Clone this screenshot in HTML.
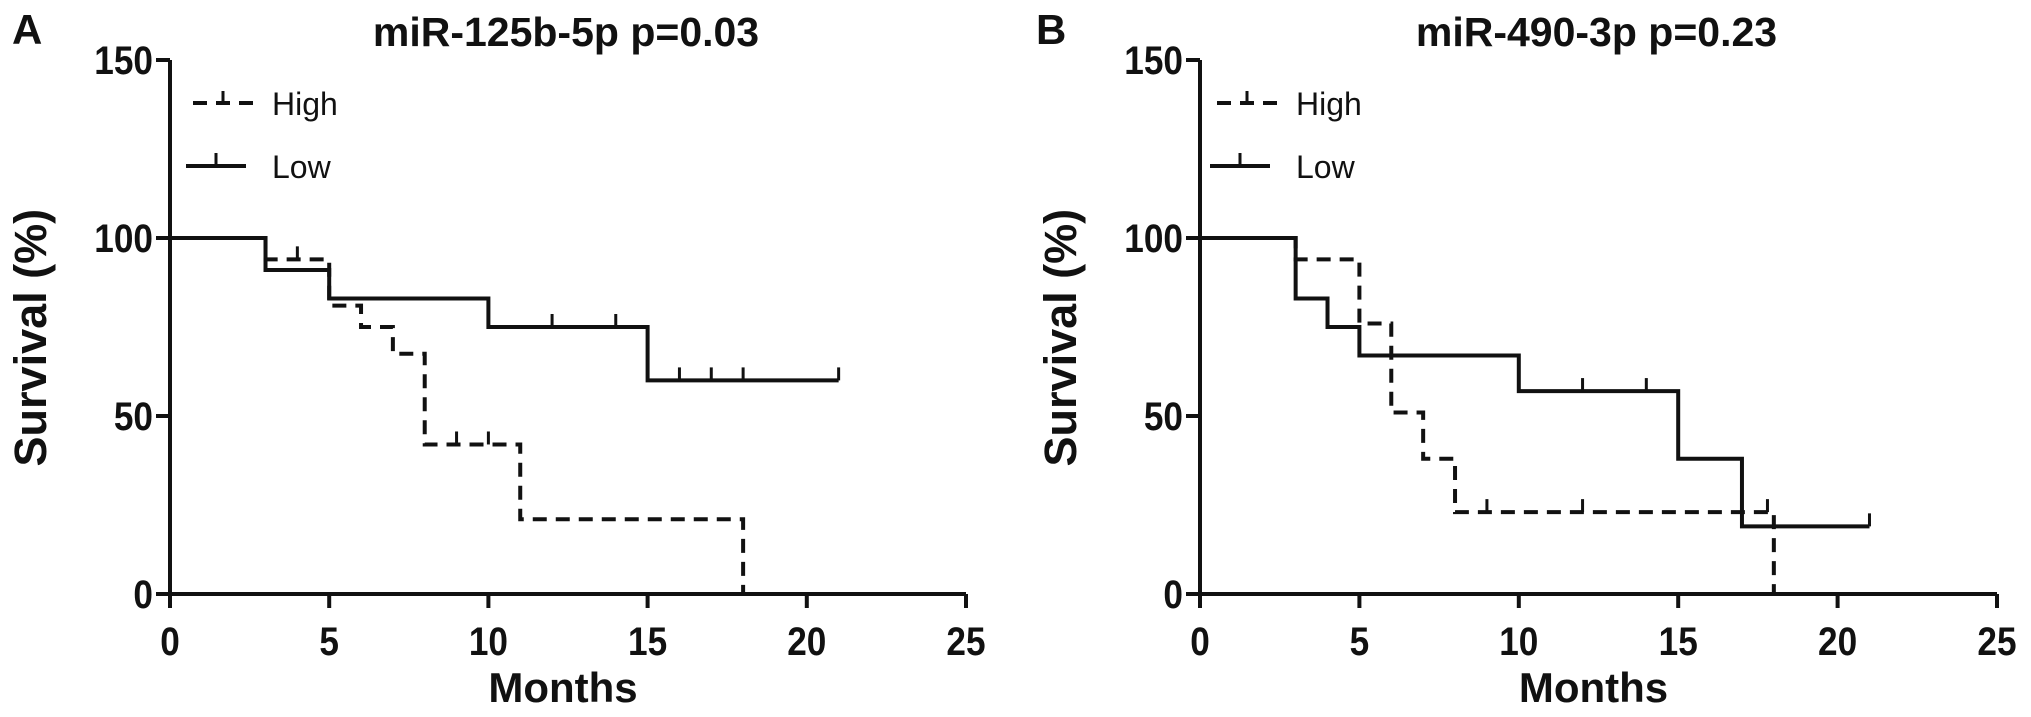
<!DOCTYPE html>
<html><head><meta charset="utf-8"><style>
html,body{margin:0;padding:0;background:#fff;}
svg{display:block;}
text{font-family:"Liberation Sans",Arial,sans-serif;fill:#111;}
</style></head><body>
<svg id="chart" width="2031" height="717" viewBox="0 0 2031 717" xmlns="http://www.w3.org/2000/svg"></svg>
<script>
// ---- Data ----
const xTicks = [0, 5, 10, 15, 20, 25];
const yTicks = [0, 50, 100, 150];
const titles = ["miR-125b-5p p=0.03", "miR-490-3p p=0.23"];
const panelLetters = ["A", "B"];
// Panel A
const aHighTimes = [0, 3, 5, 6, 7, 8, 11, 18];
const aHighSurv  = [100, 94, 81, 75, 67.5, 42, 21, 0];
const aHighCensT = [4, 9, 10];
const aLowTimes  = [0, 3, 5, 10, 15, 21];
const aLowSurv   = [100, 91, 83, 75, 60, 60];
const aLowCensT  = [12, 14, 16, 17, 18, 21];
// Panel B
const bHighTimes = [0, 3, 5, 6, 7, 8, 18];
const bHighSurv  = [100, 94, 76, 51, 38, 23, 0];
const bHighCensT = [9, 12, 17.8];
const bLowTimes  = [0, 3, 4, 5, 10, 15, 17, 21];
const bLowSurv   = [100, 83, 75, 67, 57, 38, 19, 19];
const bLowCensT  = [12, 14, 21];

const NS = "http://www.w3.org/2000/svg";
const svg = document.getElementById('chart');
function mk(tag, attrs, parent) {
  const e = document.createElementNS(NS, tag);
  for (const k in attrs) e.setAttribute(k, attrs[k]);
  (parent || svg).appendChild(e);
  return e;
}
const panels = [
  {x0: 170, x1: 966, letterX: 12, high: [aHighTimes, aHighSurv, aHighCensT], low: [aLowTimes, aLowSurv, aLowCensT], legX: 186},
  {x0: 1200, x1: 1997, letterX: 1036, high: [bHighTimes, bHighSurv, bHighCensT], low: [bLowTimes, bLowSurv, bLowCensT], legX: 1210}
];
const Y0 = 594, Y150 = 60;

function survAt(times, surv, t) {
  let v = surv[0];
  for (let i = 0; i < times.length; i++) if (times[i] <= t) v = surv[i];
  return v;
}

panels.forEach((p, pi) => {
  const g = mk('g', {});
  
  
  const sx = v => p.x0 + (p.x1 - p.x0) * v / 25;
  const sy = v => Y0 - (Y0 - Y150) * v / 150;

  const L = mk('text', {x: p.letterX, y: 44, 'font-size': 42, 'font-weight': 'bold'}, g);
  L.textContent = panelLetters[pi];
  
  

  const T = mk('text', {x: (p.x0 + p.x1) / 2 - 2, y: 46, 'font-size': 41, 'font-weight': 'bold', 'text-anchor': 'middle'}, g);
  T.textContent = titles[pi];
  
  

  // axes
  const ax = mk('path', {d: `M${p.x0} ${sy(150)} V${Y0} H${sx(25)}`, stroke: '#111', 'stroke-width': 4, fill: 'none'}, g);
  
  
  xTicks.forEach(t => {
    mk('line', {x1: sx(t), x2: sx(t), y1: Y0, y2: Y0 + 14, stroke: '#111', 'stroke-width': 4}, g);
    const tl = mk('text', {x: sx(t), y: 655, 'font-size': 40, 'font-weight': 'bold', 'text-anchor': 'middle', transform: `translate(${sx(t)},0) scale(0.88,1) translate(${-sx(t)},0)`}, g);
    tl.textContent = t;
    
    
  });
  yTicks.forEach(t => {
    mk('line', {x1: p.x0 - 14, x2: p.x0, y1: sy(t), y2: sy(t), stroke: '#111', 'stroke-width': 4}, g);
    const rx = p.x0 - 17;
    const tl = mk('text', {x: rx, y: sy(t) + 14, 'font-size': 40, 'font-weight': 'bold', 'text-anchor': 'end', transform: `translate(${rx},0) scale(0.88,1) translate(${-rx},0)`}, g);
    tl.textContent = t;
    
    
  });
  const xt = mk('text', {x: (p.x0 + p.x1) / 2 - 5, y: 702, 'font-size': 42, 'font-weight': 'bold', 'text-anchor': 'middle'}, g);
  xt.textContent = 'Months';
  
  
  const yx = p.x0 - 124;
  const yt = mk('text', {x: 0, y: 0, 'font-size': 45, 'font-weight': 'bold', 'text-anchor': 'middle', transform: `translate(${yx},${sy(72)}) rotate(-90)`}, g);
  yt.textContent = 'Survival (%)';
  
  

  // series
  [['high', p.high, '14 9'], ['low', p.low, null]].forEach(([nm, s, dash]) => {
    const [times, surv, cens] = s;
    let d = `M${sx(times[0])} ${sy(surv[0])}`;
    for (let i = 1; i < times.length; i++) {
      d += ` H${sx(times[i])} V${sy(surv[i])}`;
    }
    const attrs = {d: d, stroke: '#111', 'stroke-width': 4, fill: 'none'};
    if (dash) attrs['stroke-dasharray'] = dash;
    const path = mk('path', attrs, g);
    
    
    cens.forEach(t => {
      const v = survAt(times, surv, t);
      const c = mk('line', {x1: sx(t), x2: sx(t), y1: sy(v), y2: sy(v) - 13, stroke: '#111', 'stroke-width': 3}, g);
      
      
    });
  });

  // legend
  const lg = mk('g', {}, g);
  
  
  const lx = p.legX;
  const e1 = mk('path', {d: `M${lx + 7} 103 H${lx + 67}`, stroke: '#111', 'stroke-width': 4, 'stroke-dasharray': '14 9'}, lg);
  
  
  mk('line', {x1: lx + 37, x2: lx + 37, y1: 103, y2: 91, stroke: '#111', 'stroke-width': 3}, lg);
  const t1 = mk('text', {x: lx + 86, y: 115, 'font-size': 32}, lg);
  t1.textContent = 'High';
  
  
  const e2 = mk('path', {d: `M${lx} 166 H${lx + 60}`, stroke: '#111', 'stroke-width': 4}, lg);
  
  
  mk('line', {x1: lx + 30, x2: lx + 30, y1: 166, y2: 153, stroke: '#111', 'stroke-width': 3}, lg);
  const t2 = mk('text', {x: lx + 86, y: 178, 'font-size': 32}, lg);
  t2.textContent = 'Low';
  
  
});
</script>
</body></html>
